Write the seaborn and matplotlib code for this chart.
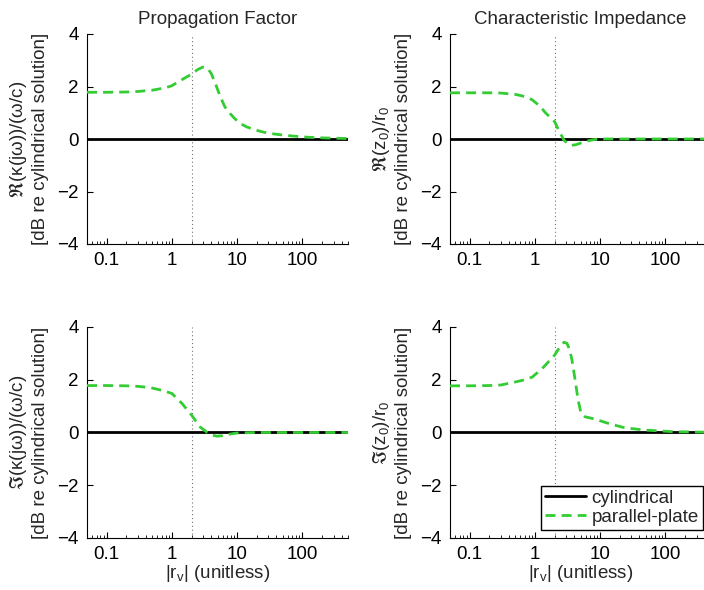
import numpy as np
import pandas as pd
import matplotlib
matplotlib.use("Agg")
import matplotlib.pyplot as plt
import matplotlib.ticker as mticker
from matplotlib.lines import Line2D
import seaborn as sns

# ---------------- data ----------------
titles = ["Propagation Factor", "Characteristic Impedance"]
ylabels = [
    r"$\Re(\kappa(j\omega))/(\omega/c)$" + "\n[dB re cylindrical solution]",
    r"$\Re(z_0)/r_0$" + "\n[dB re cylindrical solution]",
    r"$\Im(\kappa(j\omega))/(\omega/c)$" + "\n[dB re cylindrical solution]",
    r"$\Im(z_0)/r_0$" + "\n[dB re cylindrical solution]",
]
xlabel = r"|r$_\mathregular{v}$| (unitless)"
series_names = ["cylindrical", "parallel-plate"]

cyl_x = [0.05, 500]
cyl_y = [0.0, 0.0]

re_kappa_x = [0.05, 0.1, 0.2, 0.3, 0.5, 0.8, 1.0, 1.4, 2.0, 2.5, 3.0, 3.5, 4.0, 4.5,
              5.5, 6.5, 7.8, 9, 11, 14, 18, 22, 30, 50, 100, 165, 300, 500]
re_kappa_y = [1.78, 1.78, 1.79, 1.81, 1.86, 1.95, 2.03, 2.25, 2.47, 2.65, 2.74, 2.70, 2.5, 2.2,
              1.62, 1.22, 0.97, 0.8, 0.6, 0.46, 0.37, 0.3, 0.22, 0.15, 0.08, 0.05, 0.03, 0.02]

re_z0_x = [0.05, 0.1, 0.2, 0.3, 0.5, 0.7, 0.9, 1.2, 1.45, 2.0, 2.3, 2.6, 2.8, 3.2, 3.6,
           4.2, 5.1, 6.5, 8.2, 10, 20, 50, 100, 500]
re_z0_y = [1.76, 1.76, 1.76, 1.75, 1.7, 1.62, 1.5, 1.25, 1.0, 0.67, 0.35, 0.1, -0.05, -0.18, -0.24,
           -0.22, -0.15, -0.07, -0.02, 0, 0, 0, 0, 0]

im_kappa_x = [0.05, 0.1, 0.2, 0.3, 0.47, 0.7, 1.0, 1.43, 2.0, 2.7, 3.5, 4.2, 4.9, 6, 7, 8.7,
              10, 20, 100, 500]
im_kappa_y = [1.78, 1.78, 1.77, 1.75, 1.7, 1.6, 1.48, 1.1, 0.66, 0.21, 0.0, -0.1, -0.14, -0.12, -0.08, -0.04,
              -0.02, 0, 0, 0]

im_z0_x = [0.05, 0.1, 0.2, 0.3, 0.51, 0.7, 0.91, 1.3, 2.0, 2.5, 2.8, 3.1, 3.4, 3.7, 4.1, 4.6, 5.1, 5.8,
           6.5, 8, 9.3, 12, 16.7, 22, 30, 50, 135, 500]
im_z0_y = [1.77, 1.77, 1.78, 1.8, 1.92, 2.0, 2.1, 2.43, 2.93, 3.3, 3.42, 3.38, 3.15, 2.75, 2.05, 1.23, 0.72, 0.6,
           0.57, 0.52, 0.47, 0.38, 0.28, 0.2, 0.15, 0.09, 0.03, 0.01]

pp_x = [re_kappa_x, re_z0_x, im_kappa_x, im_z0_x]
pp_y = [re_kappa_y, re_z0_y, im_kappa_y, im_z0_y]

x_ticks = [0.1, 1, 10, 100]
y_ticks = [-4, -2, 0, 2, 4]
ref_x = 2.0

# ---------------- style ----------------
sns.set_theme(style="white")
plt.rcParams["font.family"] = ["Liberation Sans", "DejaVu Sans"]
plt.rcParams["mathtext.fontset"] = "custom"
plt.rcParams["mathtext.rm"] = "Liberation Sans"
plt.rcParams["mathtext.it"] = "Liberation Sans"
plt.rcParams["mathtext.default"] = "regular"
plt.rcParams["axes.unicode_minus"] = True

FS = 13.5
green = "#33cc33"
palette = {"cylindrical": "black", "parallel-plate": green}
dash_pat = (3.6, 2.2)
dashes = {"cylindrical": "", "parallel-plate": dash_pat}

fig = plt.figure(figsize=(7.04, 5.90), dpi=100)
W, H = 704, 590
pos = [
    (87, 34, 261, 210),
    (450, 34, 261, 210),
    (87, 327, 261, 211),
    (450, 327, 261, 211),
]
axes = []
for (l, t, w, h) in pos:
    axes.append(fig.add_axes([l / W, 1 - (t + h) / H, w / W, h / H]))

for i, ax in enumerate(axes):
    df = pd.concat([
        pd.DataFrame({"x": cyl_x, "y": cyl_y, "series": "cylindrical"}),
        pd.DataFrame({"x": pp_x[i], "y": pp_y[i], "series": "parallel-plate"}),
    ], ignore_index=True)
    ax.axvline(ref_x, color="0.45", lw=0.8, ls=(0, (1, 2.5)), zorder=1)
    sns.lineplot(data=df, x="x", y="y", hue="series", style="series",
                 hue_order=series_names, style_order=series_names,
                 palette=palette, dashes=dashes, linewidth=2,
                 estimator=None, sort=True, legend=False, ax=ax, zorder=3)
    ax.set_xscale("log")
    ax.set_xlim(0.05, 500)
    ax.set_ylim(-4, 4)
    ax.set_xticks(x_ticks)
    ax.xaxis.set_major_formatter(mticker.FuncFormatter(lambda v, _: f"{v:g}"))
    ax.xaxis.set_minor_locator(mticker.LogLocator(base=10, subs=np.arange(2, 10), numticks=20))
    ax.xaxis.set_minor_formatter(mticker.NullFormatter())
    ax.set_yticks(y_ticks)
    ax.tick_params(axis="both", which="major", direction="in", length=4, width=0.8,
                   labelsize=FS, colors="black", pad=6, bottom=True, left=True)
    ax.tick_params(axis="x", which="minor", direction="in", length=2.5, width=0.6,
                   bottom=True, colors="black")
    for s in ["top", "right"]:
        ax.spines[s].set_visible(False)
    for s in ["left", "bottom"]:
        ax.spines[s].set_color("black")
        ax.spines[s].set_linewidth(0.8)
    ax.set_ylabel(ylabels[i], fontsize=FS, labelpad=6, linespacing=1.2)
    if i < 2:
        ax.set_title(titles[i], fontsize=FS, pad=7)
        ax.set_xlabel("")
    else:
        ax.set_xlabel(xlabel, fontsize=FS, labelpad=0)

handles = [Line2D([], [], color="black", lw=2),
           Line2D([], [], color=green, lw=2, dashes=dash_pat)]
leg = axes[3].legend(handles, series_names, loc="lower right", fontsize=FS,
                     frameon=True, fancybox=False, edgecolor="black", framealpha=1,
                     handlelength=2.2, handletextpad=0.3, labelspacing=0.1,
                     borderpad=0.2, borderaxespad=0.45)
leg.get_frame().set_linewidth(1.0)

fig.savefig("out.png", dpi=100)
